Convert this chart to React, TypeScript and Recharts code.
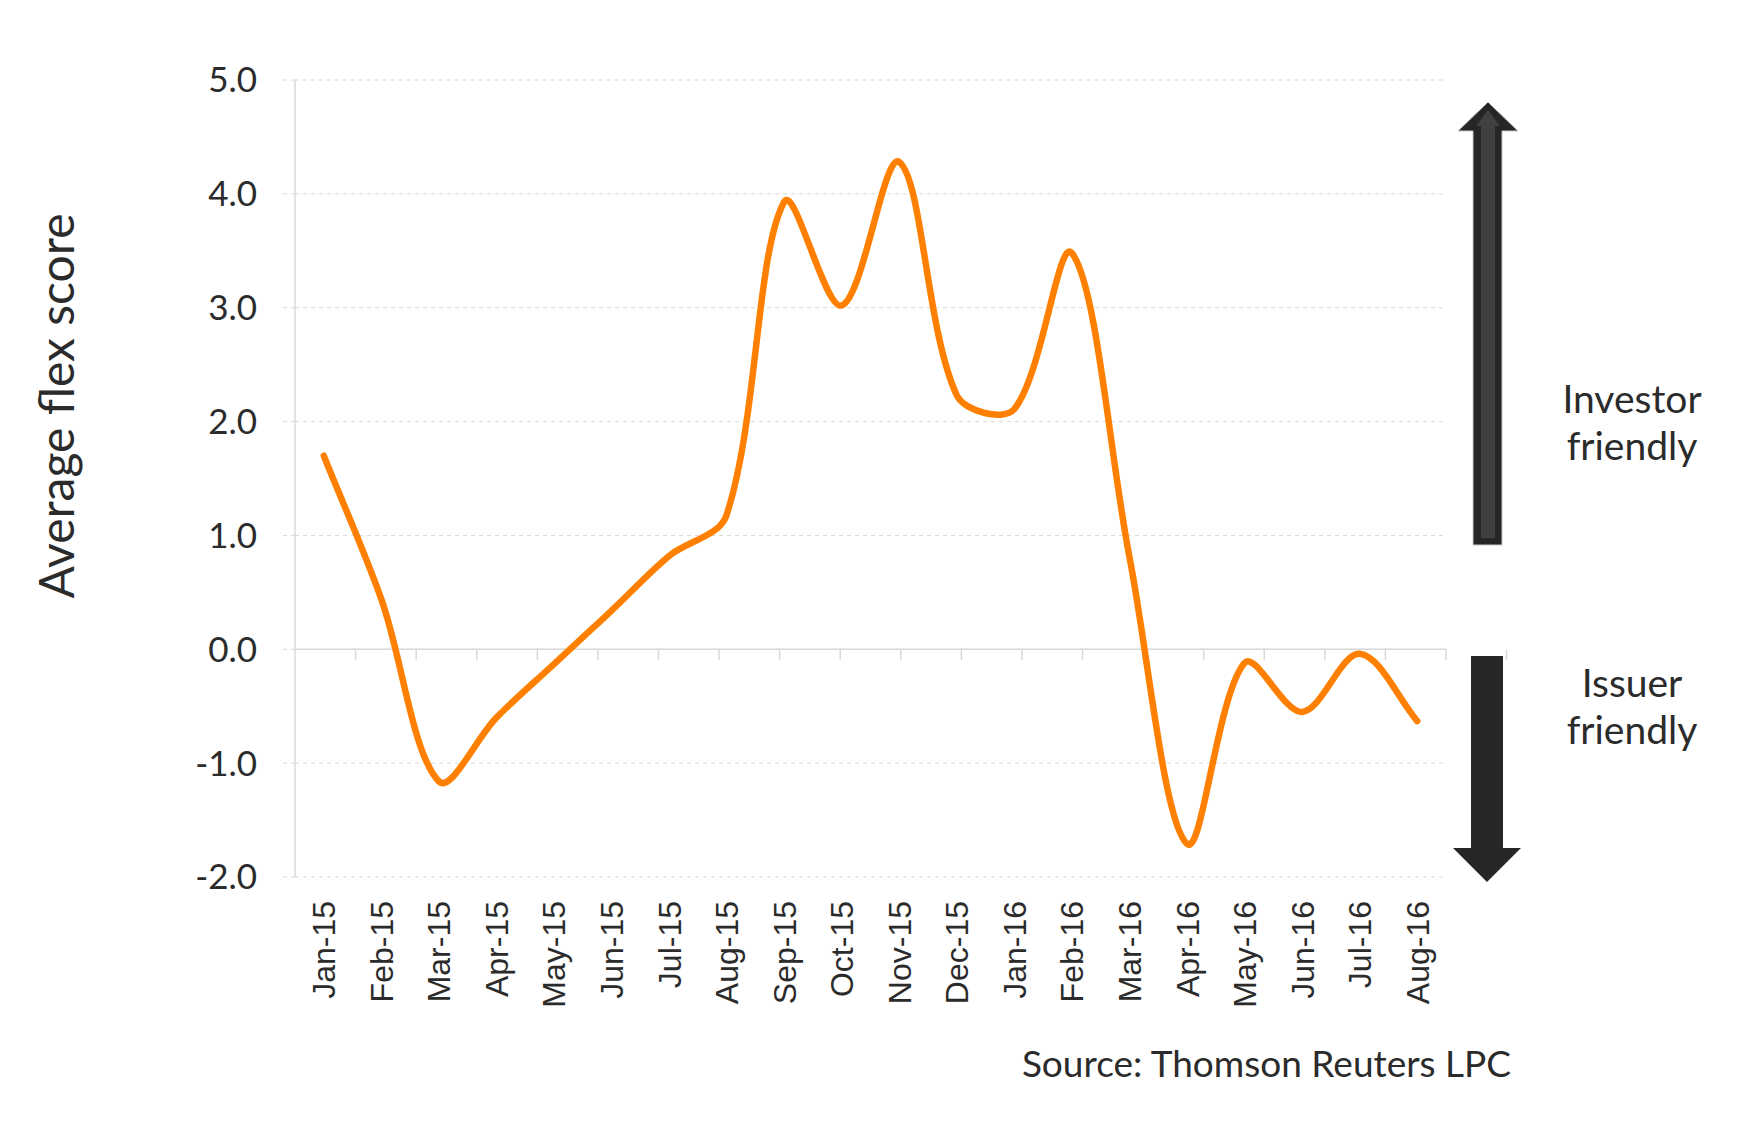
import React from "react";
import { LineChart, Line, XAxis, YAxis, CartesianGrid, ReferenceLine } from "recharts";

const months = [
  "Jan-15", "Feb-15", "Mar-15", "Apr-15", "May-15", "Jun-15", "Jul-15", "Aug-15",
  "Sep-15", "Oct-15", "Nov-15", "Dec-15", "Jan-16", "Feb-16", "Mar-16", "Apr-16",
  "May-16", "Jun-16", "Jul-16", "Aug-16",
];
const scores = [
  1.7, 0.44, -1.16, -0.6, -0.13, 0.34, 0.82, 1.18,
  3.93, 3.02, 4.28, 2.23, 2.11, 3.48, 0.81, -1.71,
  -0.12, -0.55, -0.04, -0.63,
];
const yTicks = [-2, -1, 0, 1, 2, 3, 4, 5];
const boundaryTicks = Array.from({ length: months.length }, (_, i) => i + 1);

const data = months.map((m, i) => ({ month: m, score: scores[i] }));

const W = 1750;
const H = 1132;
const MARGIN = { top: 80, right: 304, bottom: 135, left: 195 };
const Y_AXIS_W = 100;
const X_AXIS_H = 120;
const PLOT_W = W - MARGIN.left - MARGIN.right - Y_AXIS_W;
const HALF_BAND = PLOT_W / (2 * months.length);

const AVENIR = "Lato, 'Noto Sans', sans-serif";
const ARIAL = "'Liberation Sans', Arial, sans-serif";
const TEXT = "#2b2b2b";
const GRID = "#d9d9d9";

// Smoothed line similar to Excel's: Catmull-Rom tangents, arms weighted by segment length
function smoothCurve(context: any) {
  let xs: number[] = [];
  let ys: number[] = [];
  const S = 1 / 3;
  return {
    areaStart() {},
    areaEnd() {},
    lineStart() {
      xs = [];
      ys = [];
    },
    lineEnd() {
      const n = xs.length;
      if (!n) return;
      const inX: number[] = [], inY: number[] = [], outX: number[] = [], outY: number[] = [];
      const dist = (a: number, b: number) => Math.hypot(xs[a] - xs[b], ys[a] - ys[b]);
      for (let i = 0; i < n; i++) {
        const p = i > 0 ? i - 1 : i;
        const q = i < n - 1 ? i + 1 : i;
        const tx = xs[q] - xs[p];
        const ty = ys[q] - ys[p];
        const dp = dist(i, p);
        const dn = dist(i, q);
        const sum = dp + dn || 1;
        inX[i] = xs[i] - (tx * S * dp) / sum;
        inY[i] = ys[i] - (ty * S * dp) / sum;
        outX[i] = xs[i] + (tx * S * dn) / sum;
        outY[i] = ys[i] + (ty * S * dn) / sum;
      }
      context.moveTo(xs[0], ys[0]);
      for (let i = 0; i < n - 1; i++) {
        context.bezierCurveTo(outX[i], outY[i], inX[i + 1], inY[i + 1], xs[i + 1], ys[i + 1]);
      }
    },
    point(x: number, y: number) {
      xs.push(+x);
      ys.push(+y);
    },
  };
}

const MonthTick = (props: any) => {
  const { x, y, payload } = props;
  return (
    <text
      x={x}
      y={y}
      transform={`rotate(-90 ${x} ${y})`}
      textAnchor="end"
      dy="0.36em"
      fontFamily={ARIAL}
      fontSize={32}
      fill={TEXT}
    >
      {payload.value}
    </text>
  );
};

export default function App() {
  return (
    <div style={{ position: "absolute", left: 0, top: 0, width: W, height: H, background: "#fff" }}>
      <LineChart width={W} height={H} data={data} margin={MARGIN}>
        <CartesianGrid vertical={false} stroke={GRID} strokeDasharray="4 4" />
        <XAxis
          dataKey="month"
          interval={0}
          padding={{ left: HALF_BAND, right: HALF_BAND }}
          axisLine={false}
          tickLine={false}
          tickSize={0}
          tickMargin={24}
          height={X_AXIS_H}
          tick={<MonthTick />}
        />
        <XAxis xAxisId="bands" type="number" domain={[0, months.length]} hide />
        <YAxis
          domain={[-2, 5]}
          ticks={yTicks}
          interval={0}
          width={Y_AXIS_W}
          tickFormatter={(v: number) => v.toFixed(1)}
          axisLine={{ stroke: GRID, strokeWidth: 1.5 }}
          tickLine={{ stroke: GRID, strokeDasharray: "4 4" }}
          tickSize={12}
          tickMargin={26}
          tick={{ fontFamily: AVENIR, fontSize: 35, fill: TEXT }}
        />
        <ReferenceLine y={0} stroke={GRID} strokeWidth={1.5} ifOverflow="visible" />
        {boundaryTicks.map((b) => (
          <ReferenceLine
            key={b}
            xAxisId="bands"
            segment={[{ x: b, y: 0 }, { x: b, y: -0.095 }]}
            stroke={GRID}
            strokeWidth={1.5}
            ifOverflow="visible"
          />
        ))}
        <Line
          dataKey="score"
          type={smoothCurve as any}
          stroke="#FF8000"
          strokeWidth={6.5}
          strokeLinecap="round"
          dot={false}
          activeDot={false}
          isAnimationActive={false}
        />
      </LineChart>
      <svg
        width={W}
        height={H}
        style={{ position: "absolute", left: 0, top: 0, pointerEvents: "none" }}
      >
        <text
          x={0}
          y={0}
          transform="translate(74 406) rotate(-90)"
          textAnchor="middle"
          fontFamily={AVENIR}
          fontSize={48}
          fill={TEXT}
        >
          Average flex score
        </text>
        {/* Investor friendly arrow (up) */}
        <polygon
          points="1488,102 1518,131 1502,131 1502,545 1473,545 1473,131 1458,131"
          fill="#262626"
          stroke="#c8c8c8"
          strokeWidth={1}
        />
        <polygon points="1488,110 1500,126 1495,126 1495,538 1481,538 1481,126 1476,126" fill="#404040" />
        {/* Issuer friendly arrow (down) */}
        <polygon
          points="1471,656 1503,656 1503,848 1521,848 1487,882 1453,848 1471,848"
          fill="#262626"
        />
        <text textAnchor="middle" fontFamily={AVENIR} fontSize={39} fill={TEXT}>
          <tspan x={1632} y={413}>Investor</tspan>
          <tspan x={1632} y={460}>friendly</tspan>
        </text>
        <text textAnchor="middle" fontFamily={AVENIR} fontSize={39} fill={TEXT}>
          <tspan x={1632} y={697}>Issuer</tspan>
          <tspan x={1632} y={744}>friendly</tspan>
        </text>
        <text x={1511} y={1077} textAnchor="end" fontFamily={AVENIR} fontSize={37} fill={TEXT}>
          Source: Thomson Reuters LPC
        </text>
      </svg>
    </div>
  );
}
